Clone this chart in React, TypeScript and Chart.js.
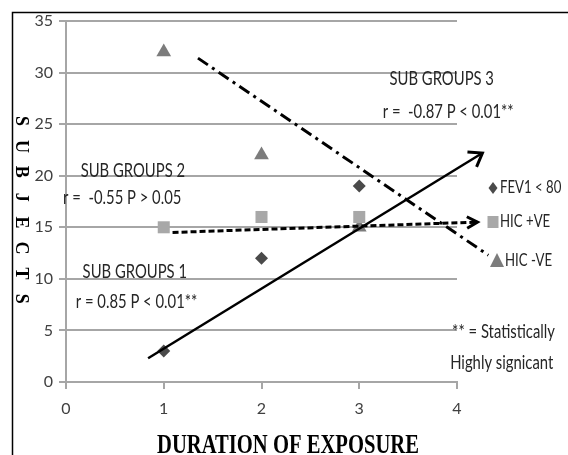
import React, { useEffect, useRef } from 'react';
import { Chart, registerables } from 'chart.js';

Chart.register(...registerables);

const FONT = "Lato, 'Open Sans', sans-serif";
const SERIF = "'Liberation Serif', 'DejaVu Serif', serif";

// measured points
const durations = [1, 2, 3];
const fev1Counts = [3, 12, 19];
const hicPosCounts = [15, 16, 16];
const hicNegCounts = [32, 22, 15];
const seriesNames = ['FEV1 < 80', 'HIC +VE', 'HIC -VE'];

// hand-drawn trend lines (end points)
const fevTrend = [{ x: 0.84, y: 2.3 }, { x: 4.26, y: 22.2 }];
const hicPosTrend = [{ x: 1.09, y: 14.5 }, { x: 4.21, y: 15.5 }];
const hicNegTrend = [{ x: 1.35, y: 31.4 }, { x: 4.32, y: 12.3 }];

// text notes, placed in data units (left edge, middle)
const notes = [
  { text: 'SUB GROUPS 3', x: 3.31, y: 29.4 },
  { text: 'r =  -0.87 P < 0.01**', x: 3.24, y: 26.2 },
  { text: 'SUB GROUPS 2', x: 0.15, y: 20.5 },
  { text: 'r =  -0.55 P > 0.05', x: -0.03, y: 17.9 },
  { text: 'SUB GROUPS 1', x: 0.17, y: 10.7 },
  { text: 'r = 0.85 P < 0.01**', x: 0.1, y: 7.8 },
  { text: '** = Statistically', x: 3.95, y: 4.85 },
  { text: 'Highly signicant', x: 3.93, y: 1.9 },
];

const xTitle = 'DURATION OF EXPOSURE';
const yTitle = 'SUBJECTS';

const toPoints = (ys: number[]) => ys.map((y, i) => ({ x: durations[i], y }));

const colors = ['#4a4a4a', '#a8a8a8', '#7c7c7c'];

// the original labels are set in a narrow face, so squeeze the text a little
function narrowText(ctx: CanvasRenderingContext2D, text: string, x: number, y: number, f: number) {
  ctx.save();
  ctx.translate(x, y);
  ctx.scale(f, 1);
  ctx.fillText(text, 0, 0);
  ctx.restore();
}

function drawMarker(ctx: CanvasRenderingContext2D, i: number, x: number, y: number) {
  ctx.beginPath();
  if (i === 0) {
    ctx.moveTo(x, y - 6);
    ctx.lineTo(x + 4.5, y);
    ctx.lineTo(x, y + 6);
    ctx.lineTo(x - 4.5, y);
  } else if (i === 1) {
    ctx.rect(x - 5.5, y - 6, 11, 12);
  } else {
    ctx.moveTo(x, y - 8);
    ctx.lineTo(x + 7, y + 6);
    ctx.lineTo(x - 7, y + 6);
  }
  ctx.closePath();
  ctx.fill();
}

const decor = {
  id: 'decor',
  afterDatasetsDraw(chart: any) {
    const ctx = chart.ctx as CanvasRenderingContext2D;
    // arrow heads on the trend lines
    chart.data.datasets.forEach((ds: any, i: number) => {
      if (!ds.arrow) return;
      const pts = chart.getDatasetMeta(i).data;
      const a = pts[pts.length - 2];
      const b = pts[pts.length - 1];
      const ang = Math.atan2(b.y - a.y, b.x - a.x);
      const len = ds.arrow.len;
      const spread = ds.arrow.spread;
      ctx.save();
      ctx.strokeStyle = '#000';
      ctx.lineWidth = 3;
      ctx.setLineDash([]);
      ctx.beginPath();
      ctx.moveTo(b.x - len * Math.cos(ang - spread), b.y - len * Math.sin(ang - spread));
      ctx.lineTo(b.x, b.y);
      ctx.lineTo(b.x - len * Math.cos(ang + spread), b.y - len * Math.sin(ang + spread));
      ctx.stroke();
      ctx.restore();
    });
  },
  afterDraw(chart: any) {
    const ctx = chart.ctx as CanvasRenderingContext2D;
    const xs = chart.scales.x;
    const ys = chart.scales.y;
    ctx.save();

    // frame
    ctx.strokeStyle = '#000';
    ctx.lineWidth = 1.5;
    ctx.beginPath();
    ctx.moveTo(12.5, chart.height);
    ctx.lineTo(12.5, 12.5);
    ctx.lineTo(chart.width, 12.5);
    ctx.stroke();

    // notes
    ctx.fillStyle = '#262626';
    ctx.font = `19.5px ${FONT}`;
    ctx.textAlign = 'left';
    ctx.textBaseline = 'middle';
    notes.forEach((n) => narrowText(ctx, n.text, xs.getPixelForValue(n.x), ys.getPixelForValue(n.y), 0.76));

    // legend
    const legendY = [188, 222, 261];
    ctx.font = `16.5px ${FONT}`;
    seriesNames.forEach((name, i) => {
      ctx.fillStyle = colors[i];
      drawMarker(ctx, i, i === 2 ? 497 : 493, legendY[i]);
      ctx.fillStyle = '#262626';
      narrowText(ctx, name, i === 2 ? 505 : 500, legendY[i], 0.8);
    });

    // y title, reading downwards
    ctx.fillStyle = '#000';
    ctx.font = `bold 18px ${SERIF}`;
    ctx.textAlign = 'center';
    yTitle.split('').forEach((ch, i) => {
      ctx.save();
      ctx.translate(21, 121 + i * 25.4);
      ctx.rotate(Math.PI / 2);
      ctx.fillText(ch, 0, 0);
      ctx.restore();
    });

    // x title, condensed
    ctx.font = `bold 27px ${SERIF}`;
    ctx.textBaseline = 'alphabetic';
    const w = ctx.measureText(xTitle).width;
    narrowText(ctx, xTitle, 288, 453, 262 / w);

    ctx.restore();
  },
};

export default function App() {
  const canvasRef = useRef<HTMLCanvasElement | null>(null);

  useEffect(() => {
    if (!canvasRef.current) return;
    const chart = new Chart(canvasRef.current, {
      type: 'scatter',
      data: {
        datasets: [
          { label: 'fev trend', data: fevTrend, showLine: true, borderColor: '#000', borderWidth: 2.5, pointRadius: 0, clip: false, order: 0, arrow: { len: 15, spread: 0.62 } } as any,
          { label: 'hic+ trend', data: hicPosTrend, showLine: true, borderColor: '#000', borderWidth: 3, borderDash: [6, 3], pointRadius: 0, clip: false, order: 0, arrow: { len: 12, spread: 0.5 } } as any,
          { label: 'hic- trend', data: hicNegTrend, showLine: true, borderColor: '#000', borderWidth: 3, borderDash: [12, 5, 3, 5], pointRadius: 0, clip: false, order: 0 } as any,
          { label: seriesNames[0], data: toPoints(fev1Counts), pointStyle: 'rectRot', pointRadius: 6.5, backgroundColor: colors[0], borderWidth: 0, order: 1 },
          { label: seriesNames[1], data: toPoints(hicPosCounts), pointStyle: 'rect', pointRadius: 8.5, backgroundColor: colors[1], borderWidth: 0, order: 1 },
          { label: seriesNames[2], data: toPoints(hicNegCounts), pointStyle: 'triangle', pointRadius: 8.5, backgroundColor: colors[2], borderWidth: 0, order: 1 },
        ],
      },
      options: {
        animation: false,
        responsive: true,
        maintainAspectRatio: false,
        layout: { padding: { top: 21, right: 111, bottom: 0, left: 0 } },
        plugins: { legend: { display: false }, tooltip: { enabled: false } },
        scales: {
          x: {
            type: 'linear',
            min: 0,
            max: 4,
            ticks: { stepSize: 1, color: '#404040', font: { family: FONT, size: 16 }, padding: 10 },
            grid: { drawOnChartArea: false, tickLength: 7, color: '#a6a6a6', lineWidth: 2 },
            border: { color: '#a6a6a6', width: 2 },
            afterFit: (s: any) => { s.height = 73; },
          },
          y: {
            min: 0,
            max: 35,
            ticks: { stepSize: 5, color: '#404040', font: { family: FONT, size: 16 }, padding: 6 },
            grid: { tickLength: 7, color: '#a6a6a6', lineWidth: 2 },
            border: { color: '#a6a6a6', width: 2 },
            afterFit: (s: any) => { s.width = 66; },
          },
        },
      },
      plugins: [decor],
    });
    return () => chart.destroy();
  }, []);

  return (
    <div style={{ position: 'fixed', left: 0, top: 0, width: 568, height: 455, background: '#fff' }}>
      <canvas ref={canvasRef} />
    </div>
  );
}
